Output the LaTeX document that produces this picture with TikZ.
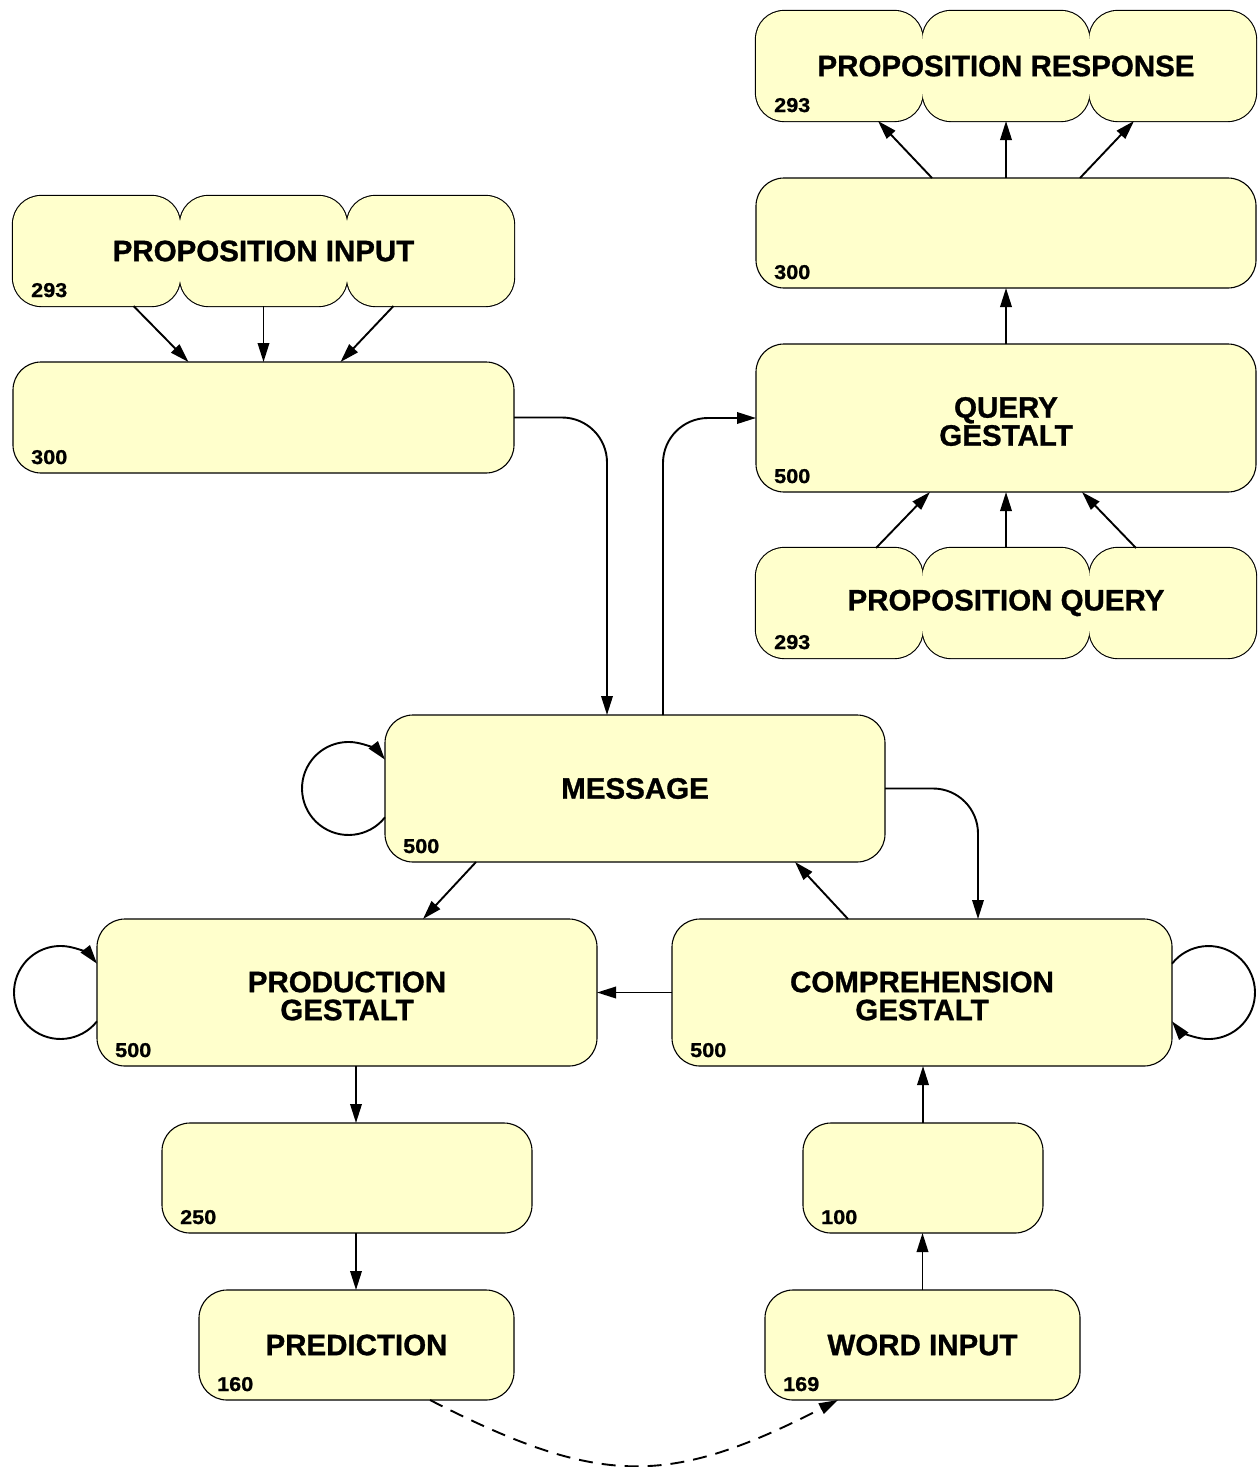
\documentclass[tikz,border=0pt]{standalone}
\usepackage{fontspec}
\setmainfont{Liberation Sans}[BoldFeatures={FakeBold=1}]
\usetikzlibrary{arrows.meta,calc}
\definecolor{boxfill}{HTML}{FFFFCC}
\newcommand\boxtitlefont{\fontsize{29.5}{28}\selectfont\bfseries}
\newcommand\boxnumfont{\fontsize{20}{20}\selectfont\bfseries}
% three-lobed box: #1 left, #2 top, #3 right, #4 bottom
\newcommand\lobedbox[4]{%
  \pgfmathsetmacro\lobew{(#3-#1)/3}%
  \foreach \i in {0,1,2}{%
    \draw[line width=2.2pt, rounded corners=28pt] ({#1+\i*\lobew},#2) rectangle ({#1+(\i+1)*\lobew},#4);}%
  \foreach \i in {0,1,2}{%
    \fill[boxfill, rounded corners=28pt] ({#1+\i*\lobew},#2) rectangle ({#1+(\i+1)*\lobew},#4);}%
  % cover the seams between neighbouring lobes
  \foreach \i in {1,2}{%
    \fill[boxfill] ({#1+\i*\lobew-2},#2-27.5) rectangle ({#1+\i*\lobew+2},#4+27.5);}%
}
\begin{document}
\begin{tikzpicture}[x=1pt,y=1pt,
  box/.style={draw=black, fill=boxfill, line width=1.1pt, rounded corners=28pt,
    outer sep=0pt, inner sep=0pt, font=\boxtitlefont, align=center},
  hold/.style={outer sep=0pt, inner sep=0pt, font=\boxtitlefont, align=center},
  twoline/.style={label={[font=\boxtitlefont, align=center, inner sep=0pt, yshift=-3.5pt]center:#1}},
  num/.style={font=\boxnumfont, inner sep=0pt, anchor=base west, xscale=1.08, transform shape},
  link/.style={line width=1.9pt, -{Triangle[length=19pt,width=11.5pt]}},
]
\useasboundingbox (0,0) rectangle (1259,-1467);

% lobed input / output groups
\lobedbox{13}{-196}{514}{-306}
\node[hold, minimum width=501pt, minimum height=110pt] (pi) at (263.5,-251) {PROPOSITION INPUT};
\lobedbox{756}{-11}{1256}{-121}
\node[hold, minimum width=500pt, minimum height=110pt] (pr) at (1006,-66) {PROPOSITION RESPONSE};
\lobedbox{756}{-548}{1256}{-658}
\node[hold, minimum width=500pt, minimum height=110pt] (pq) at (1006,-603) {PROPOSITION QUERY};

% plain layers
\node[box, minimum width=501pt, minimum height=111pt] (h1) at (263.5,-417.5) {};
\node[box, minimum width=500pt, minimum height=110pt] (h2) at (1006,-233) {};
\node[box, minimum width=500pt, minimum height=148pt, twoline={QUERY\\GESTALT}] (qg) at (1006,-418) {};
\node[box, minimum width=500pt, minimum height=147pt] (msg) at (635,-788.5) {MESSAGE};
\node[box, minimum width=500pt, minimum height=147pt, twoline={PRODUCTION\\GESTALT}] (prod) at (347,-992.5) {};
\node[box, minimum width=500pt, minimum height=147pt, twoline={COMPREHENSION\\GESTALT}] (comp) at (922,-992.5) {};
\node[box, minimum width=370pt, minimum height=110pt] (h250) at (347,-1178) {};
\node[box, minimum width=240pt, minimum height=110pt] (h100) at (923,-1178) {};
\node[box, minimum width=315pt, minimum height=110pt] (pred) at (356.5,-1345) {PREDICTION};
\node[box, minimum width=315pt, minimum height=110pt] (word) at (922.5,-1345) {WORD INPUT};

% unit counts
\node[num] (pin) at ([xshift=18pt,yshift=9pt]pi.south west) {293};
\node[num] (prn) at ([xshift=18pt,yshift=9pt]pr.south west) {293};
\node[num] (pqn) at ([xshift=18pt,yshift=9pt]pq.south west) {293};
\node[num] (h1n) at ([xshift=18pt,yshift=9pt]h1.south west) {300};
\node[num] (h2n) at ([xshift=18pt,yshift=9pt]h2.south west) {300};
\node[num] (qgn) at ([xshift=18pt,yshift=9pt]qg.south west) {500};
\node[num] (msgn) at ([xshift=18pt,yshift=9pt]msg.south west) {500};
\node[num] (prodn) at ([xshift=18pt,yshift=9pt]prod.south west) {500};
\node[num] (compn) at ([xshift=18pt,yshift=9pt]comp.south west) {500};
\node[num] (h250n) at ([xshift=18pt,yshift=9pt]h250.south west) {250};
\node[num] (h100n) at ([xshift=18pt,yshift=9pt]h100.south west) {100};
\node[num] (predn) at ([xshift=18pt,yshift=9pt]pred.south west) {160};
\node[num] (wordn) at ([xshift=18pt,yshift=9pt]word.south west) {169};

% proposition input to its hidden layer
\draw[link] ([xshift=-130pt]pi.south) -- ([xshift=-75pt]h1.north);
\draw[link] (pi.south) -- (h1.north);
\draw[link] ([xshift=130pt]pi.south) -- ([xshift=77pt]h1.north);
\draw[link, rounded corners=45pt] (h1.east) -| ([xshift=-28pt]msg.north);

% message to query side
\draw[link, rounded corners=45pt] ([xshift=28pt]msg.north) |- (qg.west);
\draw[link] ([xshift=-130pt]pq.north) -- ([xshift=-76pt]qg.south);
\draw[link] (pq.north) -- (qg.south);
\draw[link] ([xshift=130pt]pq.north) -- ([xshift=76pt]qg.south);
\draw[link] (qg.north) -- (h2.south);
\draw[link] ([xshift=-74pt]h2.north) -- ([xshift=-128pt]pr.south);
\draw[link] (h2.north) -- (pr.south);
\draw[link] ([xshift=74pt]h2.north) -- ([xshift=128pt]pr.south);

% gestalt connections
\draw[link, rounded corners=45pt] (msg.east) -| ([xshift=56pt]comp.north);
\draw[link] ([xshift=-159pt]msg.south) -- ([xshift=76pt]prod.north);
\draw[link] ([xshift=-74pt]comp.north) -- ([xshift=160pt]msg.south);
\draw[link] (comp.west) -- (prod.east);

% self loops
\draw[link] ([yshift=-28.8pt]msg.west) arc[start angle=-38.3, end angle=-321.7, radius=46.5pt];
\draw[link] ([yshift=-28.8pt]prod.west) arc[start angle=-38.3, end angle=-321.7, radius=46.5pt];
\draw[link] ([yshift=28.8pt]comp.east) arc[start angle=141.7, end angle=-141.7, radius=46.5pt];

% output and input paths
\draw[link] ([xshift=9pt]prod.south) -- ([xshift=9pt]h250.north);
\draw[link] ([xshift=9pt]h250.south) -- ([xshift=-0.5pt]pred.north);
\draw[link] (word.north) -- (word.north |- h100.south);
\draw[link] (h100.north) -- (h100.north |- comp.south);

% prediction feeds the next word
\draw[link, dash pattern=on 14pt off 9pt] ([xshift=73.5pt]pred.south)
  .. controls +(170,-87) and +(-170,-87) .. ([xshift=-84.5pt]word.south);
\end{tikzpicture}
\end{document}
